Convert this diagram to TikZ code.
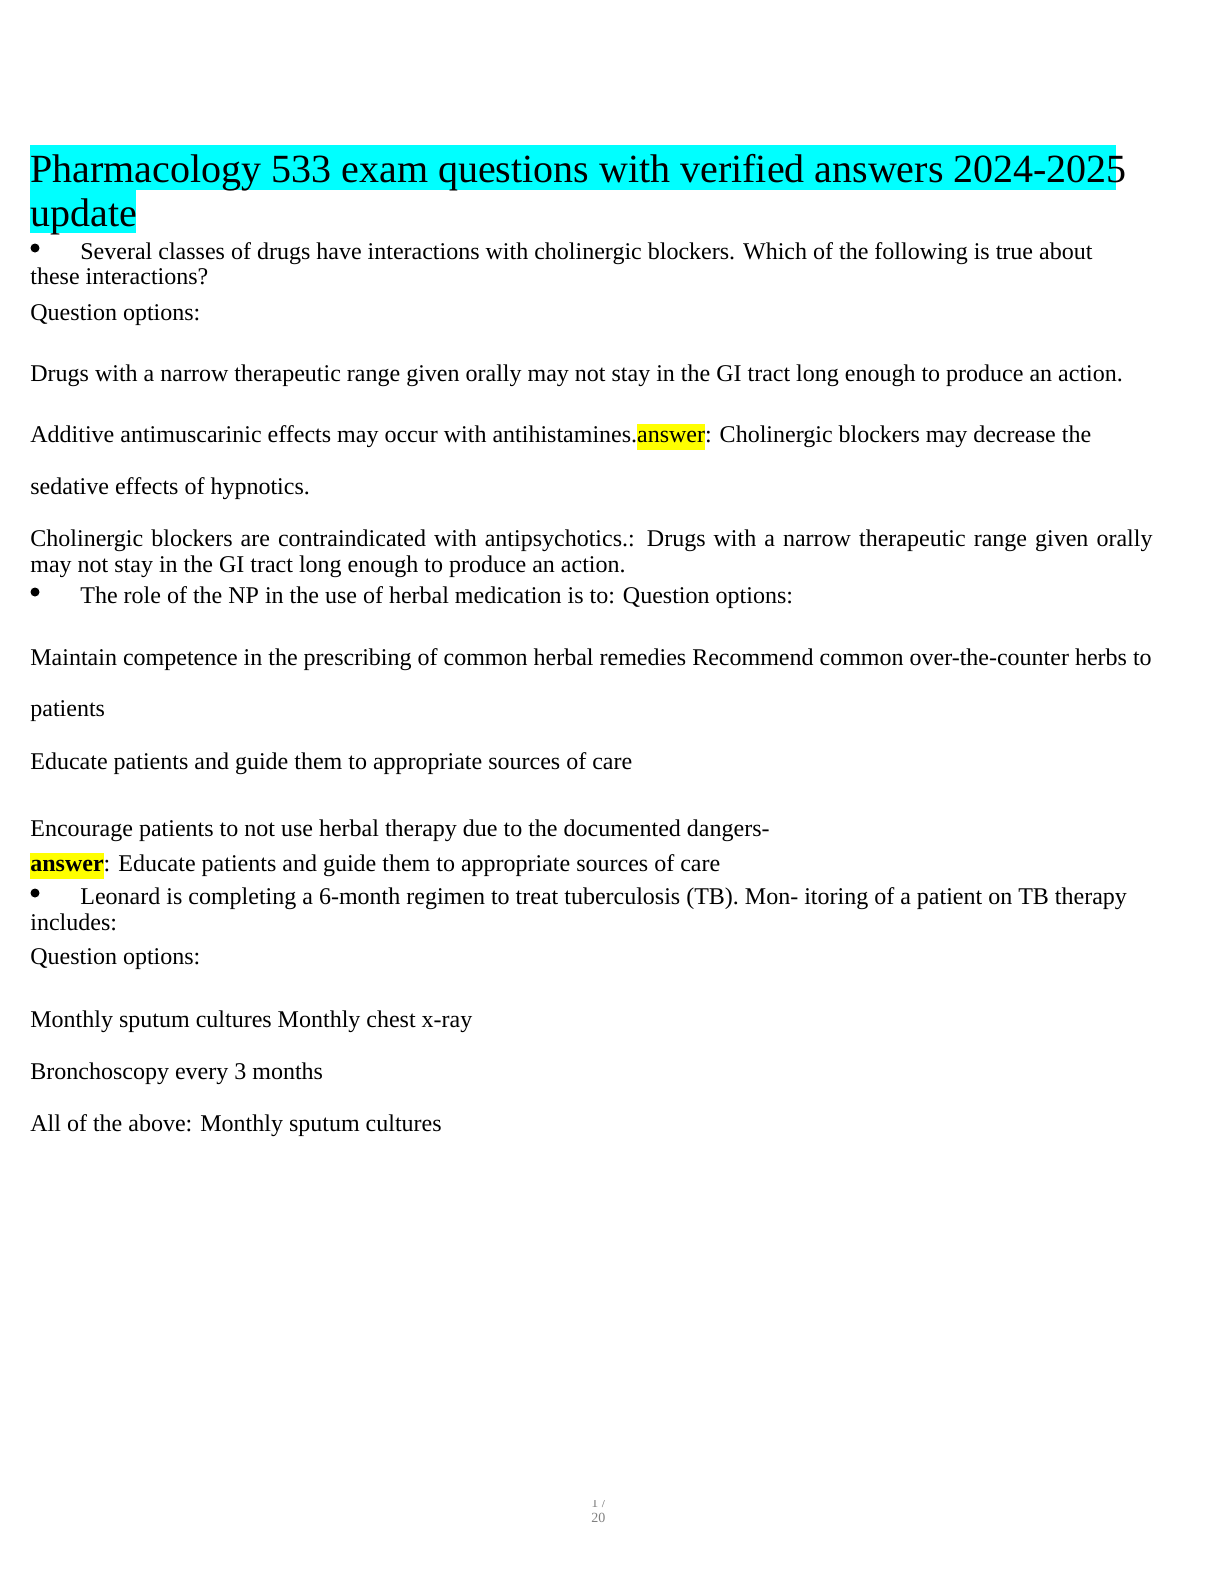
\documentclass[tikz,border=0pt]{standalone}
\usepackage{fontspec}
\setmainfont{Liberation Serif}
\definecolor{hlcyan}{RGB}{0,255,255}
\definecolor{hlyellow}{RGB}{255,255,0}
\newcommand{\hly}[1]{{\setlength{\fboxsep}{0pt}\colorbox{hlyellow}{\strut #1}}}
\begin{document}
\begin{tikzpicture}[x=0.5pt,y=-0.5pt,
  txt/.style={anchor=base west,inner sep=0pt,font=\fontsize{12pt}{13pt}\selectfont},
  ttl/.style={anchor=base west,inner sep=0pt,font=\fontsize{20pt}{22pt}\selectfont},
  dot/.style={circle,fill=black,inner sep=0pt,minimum size=4.5pt}]
\useasboundingbox (0,0) rectangle (1224,1584);
\fill[hlcyan] (30,145) rectangle (1116,190);
\fill[hlcyan] (30,190) rectangle (136,233);
\node[ttl] (t1) at (30,182) {Pharmacology 533 exam questions with verified answers 2024-2025};
\node[ttl] (t2) at (30,226) {update};
\node[dot] (b1) at (35,248) {};
\node[txt] (l1) at (80,259) {Several classes of drugs have interactions with cholinergic blockers. Which of the following is true about};
\node[txt] (l2) at (30,284) {these interactions?};
\node[txt] (l3) at (30,320) {Question options:};
\node[txt] (l4) at (30,381) {Drugs with a narrow therapeutic range given orally may not stay in the GI tract long enough to produce an action.};
\node[txt] (l5) at (30,442) {Additive antimuscarinic effects may occur with antihistamines.\hly{answer}: Cholinergic blockers may decrease the};
\node[txt] (l6) at (30,494) {sedative effects of hypnotics.};
\node[txt] (l7) at (30,546) {\makebox[561pt][s]{Cholinergic blockers are contraindicated with antipsychotics.: Drugs with a narrow therapeutic range given orally}};
\node[txt] (l8) at (30,572) {may not stay in the GI tract long enough to produce an action.};
\node[dot] (b2) at (35,592) {};
\node[txt] (l9) at (80,603) {The role of the NP in the use of herbal medication is to: Question options:};
\node[txt] (l10) at (30,665) {Maintain competence in the prescribing of common herbal remedies Recommend common over-the-counter herbs to};
\node[txt] (l11) at (30,716) {patients};
\node[txt] (l12) at (30,769) {Educate patients and guide them to appropriate sources of care};
\node[txt] (l13) at (30,836) {Encourage patients to not use herbal therapy due to the documented dangers-};
\node[txt] (l14) at (30,871) {\hly{\textbf{answer}}: Educate patients and guide them to appropriate sources of care};
\node[dot] (b3) at (35,893) {};
\node[txt] (l15) at (80,904) {Leonard is completing a 6-month regimen to treat tuberculosis (TB). Mon- itoring of a patient on TB therapy};
\node[txt] (l16) at (30,930) {includes:};
\node[txt] (l17) at (30,964) {Question options:};
\node[txt] (l18) at (30,1027) {Monthly sputum cultures Monthly chest x-ray};
\node[txt] (l19) at (30,1079) {Bronchoscopy every 3 months};
\node[txt] (l20) at (30,1131) {All of the above: Monthly sputum cultures};
\begin{scope}
\clip (560,1500) rectangle (640,1532);
\node[anchor=base west,inner sep=0pt,font=\fontsize{7pt}{7.5pt}\selectfont,text=gray,align=left] (pg) at (591,1522) {1 /\\20};
\end{scope}
\end{tikzpicture}
\end{document}
